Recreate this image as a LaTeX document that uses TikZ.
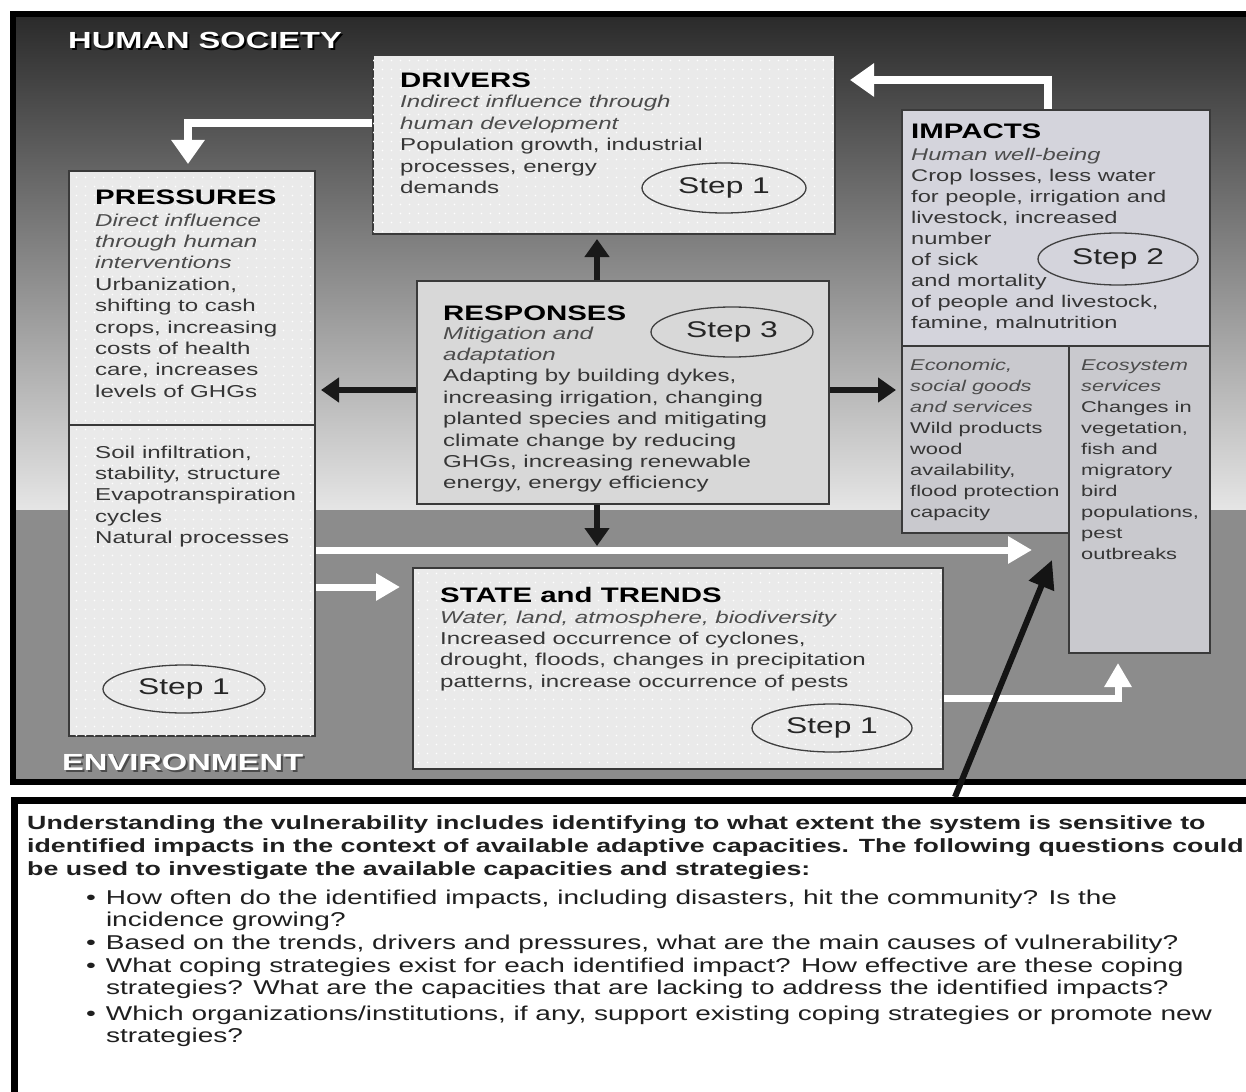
\documentclass[tikz,border=0pt]{standalone}
\usepackage{fontspec}
\setmainfont[FakeStretch=1.4]{Liberation Sans}
\usetikzlibrary{shapes.geometric,arrows.meta,patterns.meta}

\definecolor{bodytxt}{HTML}{363636}
\definecolor{ittxt}{HTML}{4C4C4C}
\definecolor{boxlight}{HTML}{EAEAEA}
\definecolor{boxmid}{HTML}{D8D8D8}
\definecolor{boximp}{HTML}{D4D4DC}
\definecolor{boxcell}{HTML}{C9C9CE}
\definecolor{boxline}{HTML}{3A3A3A}
\definecolor{envgray}{HTML}{8C8C8C}

\tikzdeclarepattern{
  name=wdots, type=uncolored,
  bottom left={(-.1pt,-.1pt)}, top right={(9.1pt,9.1pt)},
  tile size={(9pt,9pt)},
  code={\fill (4.5pt,4.5pt) circle (0.9pt);}
}

\newcommand{\bodyfont}{\fontsize{17.2}{21.4}\selectfont}
\newcommand{\impfont}{\fontsize{16.9}{21}\selectfont}
\newcommand{\cellfont}{\fontsize{15.6}{21}\selectfont}
\newcommand{\titlefont}{\fontsize{21}{24}\selectfont\bfseries}
\newcommand{\stepfont}{\fontsize{22.7}{26}\selectfont}
\newcommand{\bigfont}{\fontsize{23.3}{27}\selectfont\bfseries}
\newcommand{\parafont}{\fontsize{19.1}{23}\selectfont\bfseries}
\newcommand{\itemfont}{\fontsize{20}{22}\selectfont}
\newcommand{\ital}[1]{{\color{ittxt}\itshape #1}}

\begin{document}
\begin{tikzpicture}[x=1pt,y=-1pt,
  boxbase/.style={draw=boxline, line width=2pt, inner sep=0pt, anchor=north west},
  lightbox/.style={boxbase, fill=boxlight, postaction={pattern=wdots, pattern color=white}},
  midbox/.style={boxbase, fill=boxmid},
  impbox/.style={boxbase, fill=boximp},
  cellbox/.style={boxbase, fill=boxcell},
  txt/.style={anchor=base west, inner sep=0pt, align=left, text=bodytxt, font=\bodyfont},
  imptxt/.style={txt, font=\impfont},
  celltxt/.style={txt, font=\cellfont},
  ttl/.style={anchor=base west, inner sep=0pt, font=\titlefont, text=black},
  stepell/.style={ellipse, draw=black!75, line width=1.3pt, inner sep=0pt, font=\stepfont, text=black!85},
  warrow/.style={draw=white, line width=8pt, -{Triangle[length=24pt,width=32pt]}},
  warrowb/.style={draw=white, line width=7pt, -{Triangle[length=24pt,width=26pt]}},
  barrow/.style={draw=black!90, line width=6pt, -{Triangle[length=18pt,width=24pt]}},
  barrowb/.style={draw=black!92, line width=6pt, -{Triangle[length=28pt,width=26pt]}}
]
\useasboundingbox (0,0) rectangle (1246,1091);
\fill[white] (0,0) rectangle (1246,1091);

% backgrounds
\shade[top color=black!84, bottom color=black!10] (10,12) rectangle (1255,510);
\fill[envgray] (10,510) rectangle (1255,782);
\draw[line width=6pt, black] (13,14) rectangle (1260,782);

% titles of regions
\node[anchor=base west, inner sep=0pt, font=\bigfont, text=black] (hsshadow) at (70,51) {HUMAN SOCIETY};
\node[anchor=base west, inner sep=0pt, font=\bigfont, text=white] (hs) at (68,49) {HUMAN SOCIETY};
\node[anchor=base west, inner sep=0pt, font=\bigfont, text=black!70] (envshadow) at (64,772) {ENVIRONMENT};
\node[anchor=base west, inner sep=0pt, font=\bigfont, text=white] (env) at (62,770) {ENVIRONMENT};

% boxes
\node[lightbox, minimum width=462pt, minimum height=179pt] (drivers) at (372,54) {};
\node[lightbox, minimum width=246pt, minimum height=254pt] (pres) at (68,170) {};
\node[lightbox, minimum width=246pt, minimum height=311pt] (nat) at (68,424) {};
\node[midbox, minimum width=412pt, minimum height=223pt] (resp) at (416,280) {};
\node[lightbox, minimum width=530pt, minimum height=201pt] (state) at (412,567) {};
\node[impbox, minimum width=308pt, minimum height=236pt] (impacts) at (901,109) {};
\node[cellbox, minimum width=167pt, minimum height=187pt] (econ) at (901,345) {};
\node[cellbox, minimum width=141pt, minimum height=307pt] (eco) at (1068,345) {};

% bottom info box
\node[draw=black, line width=7pt, fill=white, inner sep=0pt, anchor=north west,
      minimum width=1260pt, minimum height=320pt] (info) at (11,797) {};

% texts (multi-line nodes are placed by the baseline of their last line)
% drivers
\node[ttl] (drvT) at (400,88) {DRIVERS};
\node[txt] (drvB) at (400,193.6) {\ital{Indirect influence through}\\\ital{human development}\\Population growth, industrial\\processes, energy\\demands};
\node[stepell, minimum width=164pt, minimum height=50pt] (drvS) at (724,188) {Step 1};

% pressures
\node[ttl] (prsT) at (95,205) {PRESSURES};
\node[txt] (prsB) at (95,397.2) {\ital{Direct influence}\\\ital{through human}\\\ital{interventions}\\Urbanization,\\shifting to cash\\crops, increasing\\costs of health\\care, increases\\levels of GHGs};
\node[txt] (natB) at (95,543.6) {Soil infiltration,\\stability, structure\\Evapotranspiration\\cycles\\Natural processes};
\node[stepell, minimum width=162pt, minimum height=48pt] (prsS) at (184,689) {Step 1};

% responses
\node[ttl] (rspT) at (443,320) {RESPONSES};
\node[txt] (rspB) at (443,488.8) {\ital{Mitigation and}\\\ital{adaptation}\\Adapting by building dykes,\\increasing irrigation, changing\\planted species and mitigating\\climate change by reducing\\GHGs, increasing renewable\\energy, energy efficiency};
\node[stepell, minimum width=162pt, minimum height=50pt] (rspS) at (732,332) {Step 3};

% state and trends
\node[ttl] (stT) at (440,602) {STATE and TRENDS};
\node[txt] (stB) at (440,687.2) {\ital{Water, land, atmosphere, biodiversity}\\Increased occurrence of cyclones,\\drought, floods, changes in precipitation\\patterns, increase occurrence of pests};
\node[stepell, minimum width=160pt, minimum height=48pt] (stS) at (832,728) {Step 1};

% impacts
\node[ttl] (imT) at (911,139) {IMPACTS};
\node[imptxt] (imB) at (911,328) {\ital{Human well-being}\\Crop losses, less water\\for people, irrigation and\\livestock, increased\\number\\of sick\\and mortality\\of people and livestock,\\famine, malnutrition};
\node[stepell, minimum width=160pt, minimum height=52pt] (imS) at (1118,259) {Step 2};
\node[celltxt] (ecB) at (910,517) {\ital{Economic,}\\\ital{social goods}\\\ital{and services}\\Wild products\\wood\\availability,\\flood protection\\capacity};
\node[celltxt] (esB) at (1081,559) {\ital{Ecosystem}\\\ital{services}\\Changes in\\vegetation,\\fish and\\migratory\\bird\\populations,\\pest\\outbreaks};

% bottom text
\node[anchor=base west, inner sep=0pt, align=left, font=\parafont, text=black!88] (para) at (27,875)
 {Understanding the vulnerability includes identifying to what extent the system is sensitive to\\
  identified impacts in the context of available adaptive capacities. The following questions could\\
  be used to investigate the available capacities and strategies:};
\node[anchor=base west, inner sep=0pt, font=\itemfont, text=black!88] (items) at (86,904)
 {\begin{tabular}[t]{@{}l@{\hspace{10pt}}l@{}}
  \textbullet & How often do the identified impacts, including disasters, hit the community? Is the\\
   & incidence growing?\\[1pt]
  \textbullet & Based on the trends, drivers and pressures, what are the main causes of vulnerability?\\[1pt]
  \textbullet & What coping strategies exist for each identified impact? How effective are these coping\\
   & strategies? What are the capacities that are lacking to address the identified impacts?\\[4pt]
  \textbullet & Which organizations/institutions, if any, support existing coping strategies or promote new\\
   & strategies?
 \end{tabular}};

% connectors
\coordinate (pA) at (1048,80);
\draw[warrow, shorten >=14pt] (impacts.north -| pA) |- (drivers.east |- pA);
\coordinate (pB) at (188,123);
\draw[warrow, shorten >=6pt] (drivers.west |- pB) -| (pres.north -| pB);
\coordinate (pC) at (597,390);
\draw[barrow, shorten >=4pt] (resp.north -| pC) -- (drivers.south -| pC);
\draw[barrow, shorten >=5pt] (resp.west |- pC) -- (pres.east |- pC);
\draw[barrow, shorten >=5pt] (resp.east |- pC) -- (econ.west |- pC);
\draw[barrow, shorten >=21pt] (resp.south -| pC) -- (state.north -| pC);
\coordinate (pD) at (1032,550);
\draw[warrowb] (nat.east |- pD) -- (pD);
\coordinate (pE) at (0,587);
\draw[warrowb, shorten >=12pt] (nat.east |- pE) -- (state.west |- pE);
\coordinate (pF) at (1118,698);
\draw[warrowb, shorten >=9pt] (state.east |- pF) -| (eco.south -| pF);
\coordinate (pG) at (955,0);
\coordinate (pH) at (1052,560);
\draw[barrowb] (info.north -| pG) -- (pH);
\end{tikzpicture}
\end{document}
